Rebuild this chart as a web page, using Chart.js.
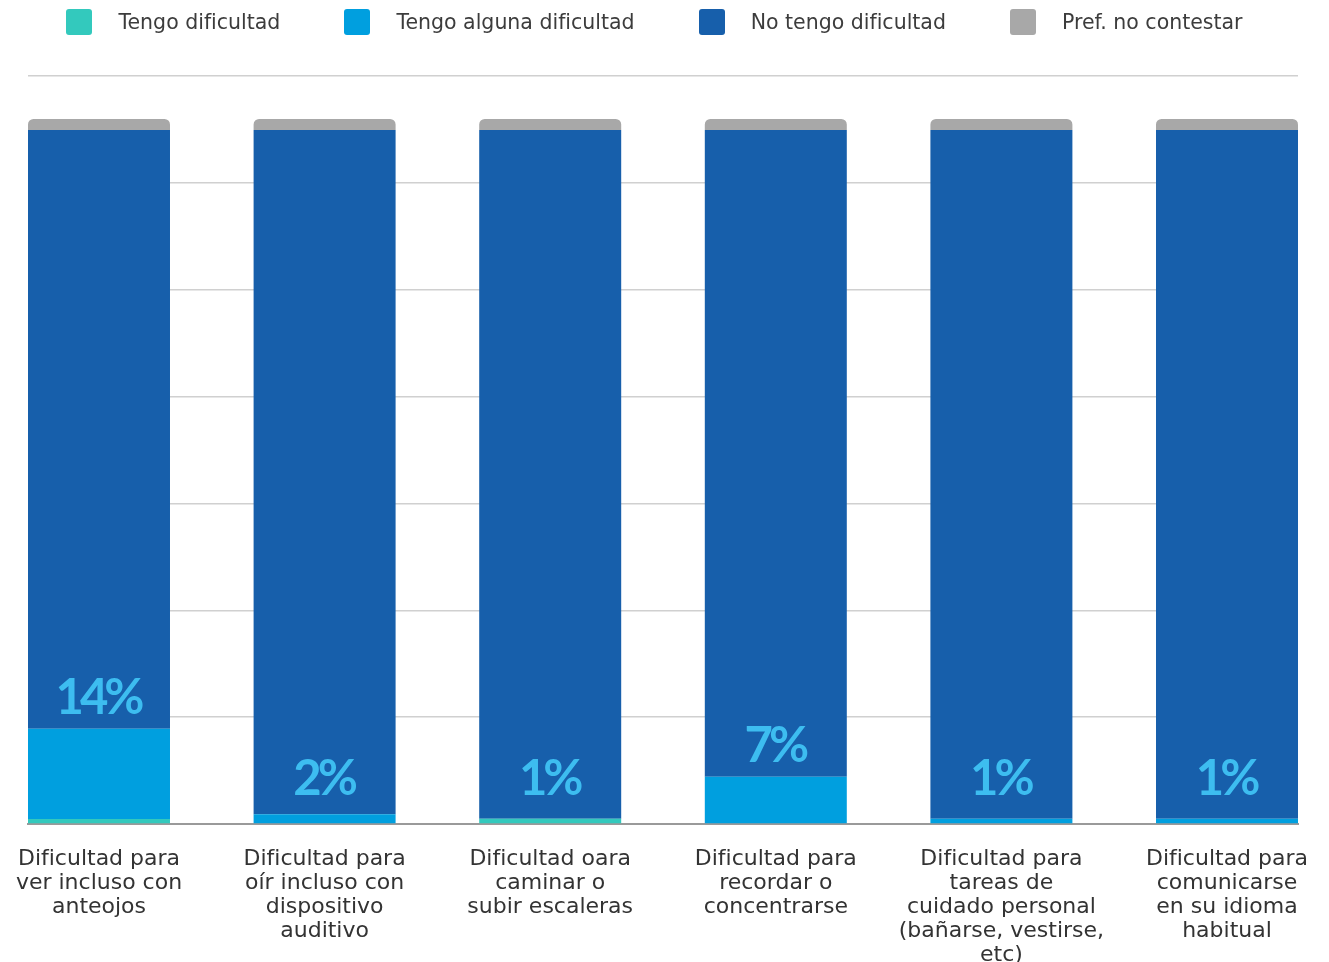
<!DOCTYPE html>
<html lang="es">

<head>
    <meta charset="UTF-8">
    <title>Dificultades</title>
    <script src="https://cdn.jsdelivr.net/npm/chart.js@4.4.1/dist/chart.umd.min.js"></script>
    <style>
        html, body {
            margin: 0;
            padding: 0;
            background: #fff;
            overflow: hidden;
        }
        #wrap {
            position: relative;
            width: 1329px;
            height: 962px;
        }
        #legend {
            position: absolute;
            top: 9px;
            left: 0;
            width: 1329px;
            display: flex;
            justify-content: center;
            gap: 64px;
            font-family: "DejaVu Sans", sans-serif;
            font-size: 20.5px;
            color: #3c3c3c;
            margin-left: -10px;
        }
        .item {
            display: flex;
            align-items: center;
        }
        .box {
            width: 26px;
            height: 26px;
            border-radius: 3px;
            margin-right: 26px;
        }
    </style>
</head>

<body>
    <div id="wrap">
        <div id="legend"></div>
        <canvas id="myChart" width="1329" height="962"></canvas>
    </div>
    <script>
        // categories (x labels, split in lines)
        var categories = [
            ["Dificultad para", "ver incluso con", "anteojos"],
            ["Dificultad para", "oír incluso con", "dispositivo", "auditivo"],
            ["Dificultad oara", "caminar o", "subir escaleras"],
            ["Dificultad para", "recordar o", "concentrarse"],
            ["Dificultad para", "tareas de", "cuidado personal", "(bañarse, vestirse,", "etc)"],
            ["Dificultad para", "comunicarse", "en su idioma", "habitual"]
        ];

        // series values in %
        var tengo = [0.7, 0, 0.75, 0, 0, 0];
        var alguna = [12.8, 1.4, 0, 6.7, 0.75, 0.75];
        var noTengo = [84.95, 97.05, 97.7, 91.75, 97.7, 97.7];
        var prefNo = [1.55, 1.55, 1.55, 1.55, 1.55, 1.55];

        // labels shown on the bars
        var pctLabels = ["14%", "2%", "1%", "7%", "1%", "1%"];

        var seriesNames = ["Tengo dificultad", "Tengo alguna dificultad", "No tengo dificultad", "Pref. no contestar"];
        var colors = ["#33c9bd", "#009fdf", "#175fab", "#a8a8a8"];

        function pts(arr) {
            return arr.map(function (v, i) { return { x: i, y: v }; });
        }

        // html legend
        var legend = document.getElementById("legend");
        seriesNames.forEach(function (name, i) {
            var it = document.createElement("div");
            it.className = "item";
            it.innerHTML = '<span class="box" style="background:' + colors[i] + '"></span><span>' + name + '</span>';
            legend.appendChild(it);
        });

        var pctPlugin = {
            id: "pct",
            afterDatasetsDraw: function (chart) {
                var ctx = chart.ctx;
                var y = chart.scales.y;
                var meta = chart.getDatasetMeta(0);
                ctx.save();
                ctx.fillStyle = "#3dbdf0";
                ctx.font = "bold 49px Lato";
                ctx.letterSpacing = "-4px";
                ctx.textAlign = "center";
                ctx.textBaseline = "alphabetic";
                pctLabels.forEach(function (t, i) {
                    var top = y.getPixelForValue(tengo[i] + alguna[i]);
                    var base = y.getPixelForValue(0);
                    var by = Math.min(top - 15, base - 29);
                    ctx.fillText(t, meta.data[i].x - 1, by);
                });
                ctx.restore();
            }
        };

        var half = 0.3147;
        var ctx = document.getElementById("myChart").getContext("2d");
        var myChart = new Chart(ctx, {
            type: "bar",
            data: {
                datasets: [{
                    label: seriesNames[0],
                    data: pts(tengo),
                    backgroundColor: colors[0]
                }, {
                    label: seriesNames[1],
                    data: pts(alguna),
                    backgroundColor: colors[1]
                }, {
                    label: seriesNames[2],
                    data: pts(noTengo),
                    backgroundColor: colors[2]
                }, {
                    label: seriesNames[3],
                    data: pts(prefNo),
                    backgroundColor: colors[3],
                    borderRadius: { topLeft: 10, topRight: 10, bottomLeft: 0, bottomRight: 0 },
                    borderSkipped: false
                }]
            },
            options: {
                responsive: false,
                animation: false,
                barPercentage: 0.6294,
                categoryPercentage: 1,
                layout: {
                    padding: { top: 76, left: 28, right: 31, bottom: 0 }
                },
                plugins: {
                    legend: { display: false },
                    title: { display: false },
                    tooltip: { enabled: false }
                },
                scales: {
                    x: {
                        type: "linear",
                        stacked: true,
                        offset: false,
                        min: -half,
                        max: 5 + half,
                        grid: { display: false, drawTicks: false },
                        border: { color: "#9a9a9a", width: 2 },
                        afterBuildTicks: function (scale) {
                            scale.ticks = categories.map(function (c, i) { return { value: i }; });
                        },
                        afterFit: function (scale) {
                            scale.height = 138;
                            scale.paddingLeft = 0;
                            scale.paddingRight = 0;
                        },
                        ticks: {
                            autoSkip: false,
                            maxRotation: 0,
                            padding: 23,
                            color: "#333333",
                            font: { family: "DejaVu Sans", size: 22, lineHeight: "24px" },
                            callback: function (v) {
                                return categories[v];
                            }
                        }
                    },
                    y: {
                        stacked: true,
                        min: 0,
                        max: 106.1,
                        grid: { color: "#d0d0d0", lineWidth: 1.5, drawTicks: false },
                        border: { display: false },
                        ticks: { display: false, count: 8 }
                    }
                }
            },
            plugins: [pctPlugin]
        });
    </script>
</body>

</html>
